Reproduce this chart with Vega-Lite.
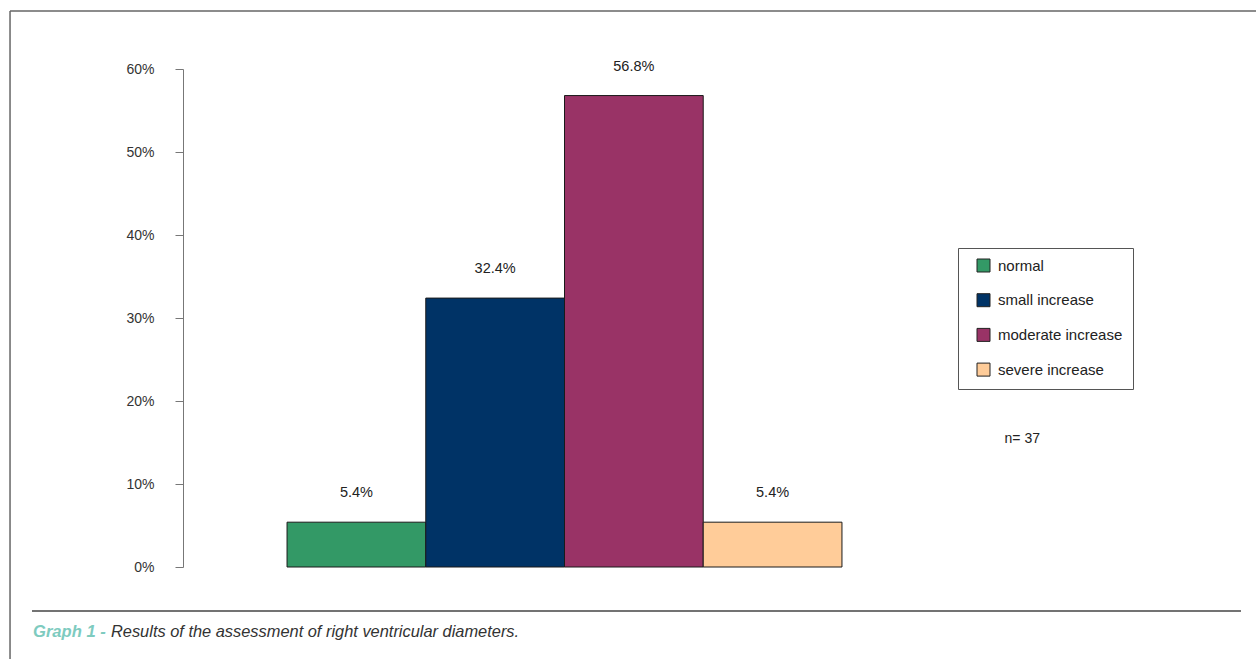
{
  "$schema": "https://vega.github.io/schema/vega-lite/v6.json",
  "width": 763,
  "height": 498,
  "autosize": {"type": "none"},
  "padding": {"left": 183, "top": 69, "right": 310, "bottom": 92},
  "background": "white",
  "config": {"view": {"stroke": null}, "font": "Liberation Sans"},
  "data": {"values": [
    {"category": "normal", "share": 0.054},
    {"category": "small increase", "share": 0.324},
    {"category": "moderate increase", "share": 0.568},
    {"category": "severe increase", "share": 0.054}
  ]},
  "layer": [
    {
      "layer": [
        {
          "mark": {"type": "bar", "stroke": "#1a1a1a", "strokeWidth": 1},
          "encoding": {
            "color": {"field": "category", "type": "nominal", "sort": null,
              "scale": {"domain": ["normal", "small increase", "moderate increase", "severe increase"], "range": ["#339966", "#003366", "#993366", "#FFCC99"]},
              "legend": {"title": null, "orient": "none", "legendX": 775, "legendY": 179, "strokeColor": "#555", "padding": 10, "symbolType": "square", "symbolSize": 169, "symbolStrokeColor": "#222", "symbolStrokeWidth": 1, "symbolOffset": 8, "labelOffset": 7, "labelFontSize": 15, "labelColor": "#222", "rowPadding": 17.7}}
          }
        },
        {
          "mark": {"type": "text", "dy": -29, "fontSize": 14.5, "color": "#222", "baseline": "middle"},
          "encoding": {
            "text": {"field": "share", "type": "quantitative", "format": ".1%"}
          }
        }
      ],
      "encoding": {
        "x": {"field": "category", "type": "nominal", "sort": null, "scale": {"type": "band", "paddingInner": 0, "paddingOuter": 0.75}, "axis": null},
        "y": {"field": "share", "type": "quantitative", "scale": {"domain": [0, 0.6], "nice": false},
          "axis": {"format": ".0%", "values": [0, 0.1, 0.2, 0.3, 0.4, 0.5, 0.6], "grid": false, "tickSize": 8, "labelPadding": 21, "labelFontSize": 14, "labelColor": "#333", "domainColor": "#777", "tickColor": "#777", "title": null}}
      }
    },
    {
      "data": {"values": [{"note": "n= 37"}]},
      "mark": {"type": "text", "fontSize": 14, "color": "#222", "baseline": "middle", "align": "center"},
      "encoding": {
        "x": {"datum": 110.0, "type": "quantitative", "scale": {"domain": [0, 100]}, "axis": null},
        "y": {"datum": 0.1542, "type": "quantitative", "scale": {"domain": [0, 0.6], "nice": false}},
        "text": {"field": "note"}
      }
    },
    {
      "data": {"values": [{"note": "Graph 1 -"}]},
      "mark": {"type": "text", "fontSize": 16.6, "fontStyle": "italic", "fontWeight": "bold", "color": "#7ECBBF", "baseline": "alphabetic", "align": "left"},
      "encoding": {
        "x": {"datum": -19.66, "type": "quantitative", "scale": {"domain": [0, 100]}, "axis": null},
        "y": {"datum": -0.0843, "type": "quantitative", "scale": {"domain": [0, 0.6], "nice": false}},
        "text": {"field": "note"}
      }
    },
    {
      "data": {"values": [{"note": "Results of the assessment of right ventricular diameters."}]},
      "mark": {"type": "text", "fontSize": 16.4, "fontStyle": "italic", "color": "#333", "baseline": "alphabetic", "align": "left"},
      "encoding": {
        "x": {"datum": -9.44, "type": "quantitative", "scale": {"domain": [0, 100]}, "axis": null},
        "y": {"datum": -0.0843, "type": "quantitative", "scale": {"domain": [0, 0.6], "nice": false}},
        "text": {"field": "note"}
      }
    },
    {
      "data": {"values": [{"part": "frame top"}]},
      "mark": {"type": "rule", "color": "#666", "strokeWidth": 1.5},
      "encoding": {
        "x": {"datum": -22.67, "type": "quantitative", "scale": {"domain": [0, 100]}, "axis": null},
        "x2": {"datum": 141},
        "y": {"datum": 0.6699, "type": "quantitative", "scale": {"domain": [0, 0.6], "nice": false}}
      }
    },
    {
      "data": {"values": [{"part": "frame left"}]},
      "mark": {"type": "rule", "color": "#666", "strokeWidth": 1.5},
      "encoding": {
        "x": {"datum": -22.67, "type": "quantitative", "scale": {"domain": [0, 100]}, "axis": null},
        "y": {"datum": 0.6699, "type": "quantitative", "scale": {"domain": [0, 0.6], "nice": false}},
        "y2": {"datum": -0.12}
      }
    },
    {
      "data": {"values": [{"part": "caption rule"}]},
      "mark": {"type": "rule", "color": "#444", "strokeWidth": 1.5},
      "encoding": {
        "x": {"datum": -19.79, "type": "quantitative", "scale": {"domain": [0, 100]}, "axis": null},
        "x2": {"datum": 138.66},
        "y": {"datum": -0.053, "type": "quantitative", "scale": {"domain": [0, 0.6], "nice": false}}
      }
    }
  ],
  "resolve": {"scale": {"x": "independent"}, "axis": {"x": "independent"}}
}
